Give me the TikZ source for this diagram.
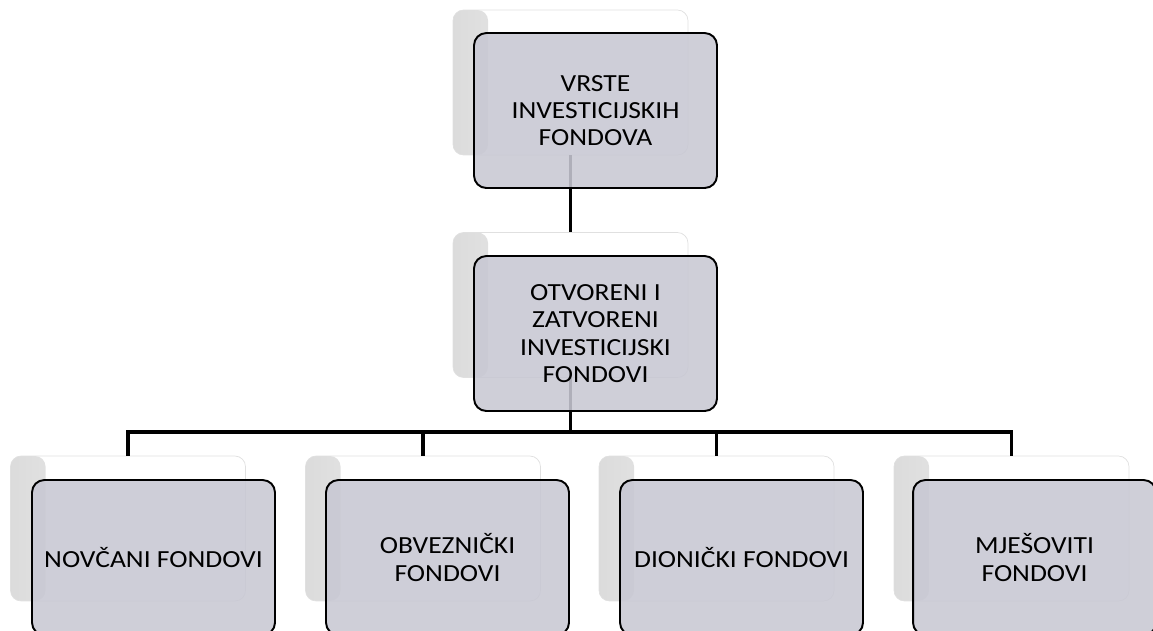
\documentclass[tikz,border=0pt]{standalone}
\usepackage{fontspec}
\setmainfont{Carlito}[FakeStretch=1.12]
\begin{document}
\begin{tikzpicture}[x=0.02cm,y=-0.02cm]
        %======definicao dos blocos==========%
        
            \definecolor{cinza}{RGB}{200,200,211}
            \tikzstyle{fundo}=[rectangle,rounded corners=6pt,draw=black!12,fill=white,minimum width=4.7cm,minimum height=2.9cm,
                path picture={\shade[left color=black!14,right color=white] (path picture bounding box.south west) rectangle ([xshift=0.7cm]path picture bounding box.north west);}]
            \tikzstyle{caixa}=[rectangle,rounded corners=7pt,draw=black,line width=1.1pt,fill=cinza,fill opacity=0.88,text opacity=1,
                minimum width=4.86cm,minimum height=3.1cm,align=center,font=\fontsize{14}{15.5}\selectfont]
            \tikzstyle{ligacao}=[line width=2.2pt]
        
        %====================%%=============%  
        
            \useasboundingbox (0,0) rectangle (1153,630);
        
            \node[fundo](fA) at (570.5,82.5) {};
            \node[fundo](fB) at (570.5,305) {};
            \node[fundo](fC) at (128,528.5) {};
            \node[fundo](fD) at (423,528.5) {};
            \node[fundo](fE) at (716.5,528.5) {};
            \node[fundo](fF) at (1011.5,528.5) {};
        
            \coordinate (bus) at (570.5,432);
            \draw[ligacao](fA.south) -- (fB.north);
            \draw[ligacao](fB.south) -- (bus);
            \foreach \n in {C,D,E,F}
                \draw[ligacao](bus) -| (f\n.north);
        
            \node[caixa](A) at (595.5,110.5) {VRSTE\\INVESTICIJSKIH\\FONDOVA};
            \node[caixa](B) at (595.5,333.5) {OTVORENI I\\ZATVORENI\\INVESTICIJSKI\\FONDOVI};
            \node[caixa](C) at (153.5,557.5) {NOVČANI FONDOVI};
            \node[caixa](D) at (447.5,557.5) {OBVEZNIČKI\\FONDOVI};
            \node[caixa](E) at (741.5,557.5) {DIONIČKI FONDOVI};
            \node[caixa](F) at (1034.5,557.5) {MJEŠOVITI\\FONDOVI};
        \end{tikzpicture}
\end{document}
